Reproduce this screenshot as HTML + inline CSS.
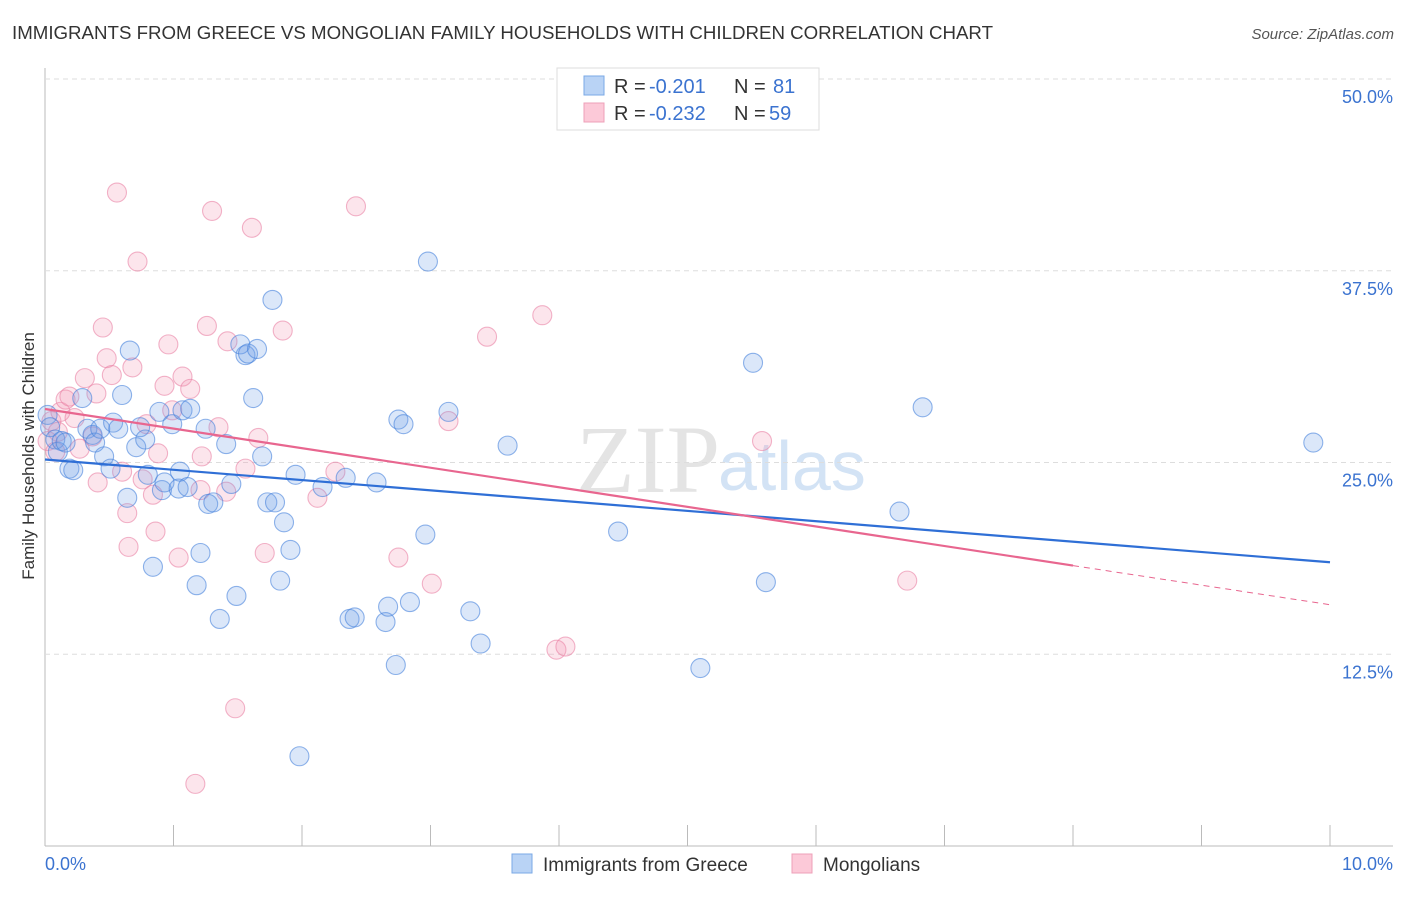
<!DOCTYPE html>
<html><head><meta charset="utf-8"><style>
body{margin:0;background:#fff;font-family:"Liberation Sans",sans-serif}
</style></head><body>
<svg id="c" width="1406" height="892" xmlns="http://www.w3.org/2000/svg" font-family="Liberation Sans, sans-serif">
<text x="12" y="39" font-size="18" fill="#333" textLength="981" lengthAdjust="spacingAndGlyphs">IMMIGRANTS FROM GREECE VS MONGOLIAN FAMILY HOUSEHOLDS WITH CHILDREN CORRELATION CHART</text>
<text x="1394" y="39" font-size="15" fill="#555" font-style="italic" text-anchor="end">Source: ZipAtlas.com</text>
<text x="34" y="456" font-size="17" fill="#333" text-anchor="middle" transform="rotate(-90 34 456)">Family Households with Children</text>
<text x="720" y="492" font-size="96" fill="#e4e4e4" text-anchor="end" font-family="Liberation Serif, serif">ZIP</text>
<text x="718" y="490" font-size="70" fill="#d3e3f5">atlas</text>
<g id="grid"></g><g id="pts"></g><g id="lines"></g>
<g>
<rect x="557" y="68" width="262" height="62" fill="#fff" stroke="#ddd"/>
<rect x="584" y="76" width="20" height="19" fill="#b9d3f5" stroke="#7aa8e6"/>
<rect x="584" y="103" width="20" height="19" fill="#fcc9d8" stroke="#eea0b8"/>
<text x="614" y="93" font-size="20" fill="#333">R =</text>
<text x="649" y="93" font-size="20" fill="#3b73d0">-0.201</text>
<text x="734" y="93" font-size="20" fill="#333">N =</text>
<text x="773" y="93" font-size="20" fill="#3b73d0">81</text>
<text x="614" y="120" font-size="20" fill="#333">R =</text>
<text x="649" y="120" font-size="20" fill="#3b73d0">-0.232</text>
<text x="734" y="120" font-size="20" fill="#333">N =</text>
<text x="769" y="120" font-size="20" fill="#3b73d0">59</text>
</g>
<g>
<rect x="512" y="854" width="20" height="19" fill="#b9d3f5" stroke="#7aa8e6"/>
<text x="543" y="871" font-size="19" fill="#333">Immigrants from Greece</text>
<rect x="792" y="854" width="20" height="19" fill="#fcc9d8" stroke="#eea0b8"/>
<text x="823" y="871" font-size="19" fill="#333">Mongolians</text>
</g>
<text x="45" y="870" font-size="18" fill="#3b73d0">0.0%</text>
<text x="1393" y="870" font-size="18" fill="#3b73d0" text-anchor="end">10.0%</text>
</svg>
<script>
const yTicks=[12.5,25,37.5,50];
const xTicks=[0,1,2,3,4,5,6,7,8,9,10];
const blueX=[0.02,0.04,0.08,0.1,0.13,0.16,0.19,0.22,0.29,0.33,0.37,0.39,0.43,0.46,0.51,0.53,0.57,0.6,0.64,0.66,0.71,0.74,0.78,0.8,0.84,0.89,0.91,0.93,0.99,1.04,1.05,1.07,1.11,1.13,1.18,1.21,1.25,1.27,1.31,1.36,1.41,1.45,1.49,1.56,1.52,1.58,1.62,1.65,1.69,1.73,1.77,1.79,1.83,1.86,1.91,1.95,1.98,2.16,2.34,2.37,2.41,2.58,2.65,2.67,2.73,2.75,2.79,2.84,2.96,2.98,3.14,3.31,3.39,3.6,4.46,5.1,5.51,5.61,6.65,6.83,9.87];
const blueY=[28.1,27.3,26.5,25.7,26.4,26.3,24.6,24.5,29.2,27.2,26.8,26.3,27.2,25.4,24.6,27.6,27.2,29.4,22.7,32.3,26.0,27.3,26.5,24.2,18.2,28.3,23.2,23.7,27.5,23.3,24.4,28.4,23.4,28.5,17.0,19.1,27.2,22.3,22.4,14.8,26.2,23.6,16.3,32.0,32.7,32.1,29.2,32.4,25.4,22.4,35.6,22.4,17.3,21.1,19.3,24.2,5.85,23.4,24.0,14.8,14.9,23.7,14.6,15.6,11.8,27.8,27.5,15.9,20.3,38.1,28.3,15.3,13.2,26.1,20.5,11.6,31.5,17.2,21.8,28.6,26.3];
const pinkX=[0.02,0.05,0.08,0.1,0.12,0.16,0.19,0.23,0.27,0.31,0.37,0.4,0.41,0.45,0.48,0.52,0.56,0.6,0.64,0.65,0.68,0.72,0.76,0.79,0.84,0.86,0.88,0.93,0.96,0.99,1.04,1.07,1.13,1.17,1.21,1.22,1.26,1.3,1.35,1.41,1.42,1.48,1.56,1.61,1.66,1.71,1.85,2.12,2.26,2.42,2.75,3.01,3.14,3.44,3.87,3.98,4.05,5.58,6.71];
const pinkY=[26.4,27.7,25.7,27.0,28.3,29.1,29.3,27.9,25.9,30.5,26.7,29.5,23.7,33.8,31.8,30.7,42.6,24.4,21.7,19.5,31.2,38.1,23.9,27.5,22.9,20.5,25.6,30.0,32.7,28.4,18.8,30.6,29.8,4.05,23.2,25.4,33.9,41.4,27.3,23.1,32.9,8.98,24.6,40.3,26.6,19.1,33.6,22.7,24.4,41.7,18.8,17.1,27.7,33.2,34.6,12.8,13.0,26.4,17.3];
const X0=45,X1=1330,Y0=846,Y50=79;
const sx=v=>X0+(X1-X0)*v/10, sy=v=>Y0-(Y0-Y50)*v/50;
const NS="http://www.w3.org/2000/svg";
function mk(t,a,p){const e=document.createElementNS(NS,t);for(const k in a)e.setAttribute(k,a[k]);p.appendChild(e);return e;}
const g=document.getElementById('grid');
const ax=mk('line',{x1:X0,y1:68,x2:X0,y2:846,stroke:'#bbb'},g);


const bx=mk('line',{x1:X0,y1:846,x2:1393,y2:846,stroke:'#bbb'},g);


yTicks.forEach(t=>{
 const l=mk('line',{x1:X0,x2:1393,y1:sy(t),y2:sy(t),stroke:'#ddd','stroke-dasharray':'5,4'},g);
 
 
 const tx=mk('text',{x:1393,y:sy(t)+24,'font-size':18,fill:'#3b73d0','text-anchor':'end'},g);
 tx.textContent=t.toFixed(1)+'%';
 
 
});
xTicks.forEach(t=>{
 const l=mk('line',{x1:sx(t),x2:sx(t),y1:825,y2:846,stroke:'#bbb'},g);
 
 
});
const P=document.getElementById('pts');
function dots(xs,ys,fill,stroke,name){xs.forEach((x,i)=>{
 const c=mk('circle',{cx:sx(x),cy:sy(ys[i]),r:9.5,fill:fill,stroke:stroke,'stroke-width':1.1},P);
 
 
});}
dots(pinkX,pinkY,'rgba(244,150,180,0.25)','rgba(234,130,165,0.6)','mongolian-point');
dots(blueX,blueY,'rgba(110,160,230,0.25)','rgba(70,130,220,0.6)','greece-point');
function fit(xs,ys){const n=xs.length;let mx=0,my=0;xs.forEach((x,i)=>{mx+=x;my+=ys[i]});mx/=n;my/=n;let sxy=0,sxx=0;xs.forEach((x,i)=>{sxy+=(x-mx)*(ys[i]-my);sxx+=(x-mx)**2});const b=sxy/sxx;return[my-b*mx,b];}
const L=document.getElementById('lines');
const [ba,bb]=fit(blueX,blueY);
const bl=mk('line',{x1:sx(0),y1:sy(ba),x2:sx(10),y2:sy(ba+bb*10),stroke:'#2f6fd6','stroke-width':2.2},L);


const [pa,pb]=fit(pinkX,pinkY);
const pl=mk('line',{x1:sx(0),y1:sy(pa),x2:sx(8),y2:sy(pa+pb*8),stroke:'#e8668f','stroke-width':2.2},L);


const pd=mk('line',{x1:sx(8),y1:sy(pa+pb*8),x2:sx(10),y2:sy(pa+pb*10),stroke:'#e8668f','stroke-width':1,'stroke-dasharray':'6,5'},L);


</script>
</body></html>
